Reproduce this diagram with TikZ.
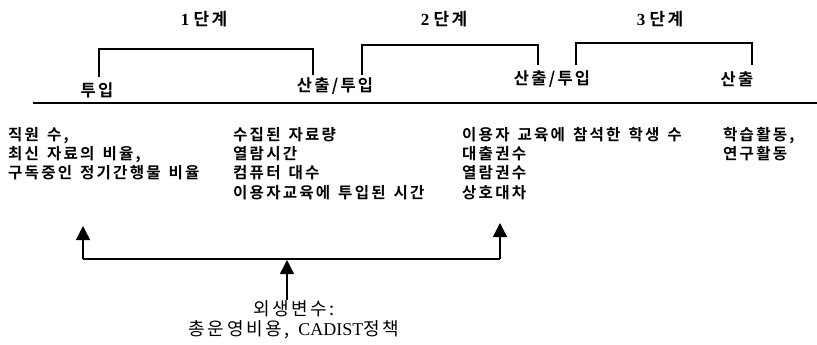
\documentclass[tikz,border=0pt]{standalone}
\usepackage{fontspec}
\setmainfont{Liberation Serif}
\newfontfamily\kr{Noto Sans CJK KR}[BoldFont={Noto Sans CJK KR Bold},LetterSpace=14,WordSpace=1.4]
\usetikzlibrary{arrows.meta}
\begin{document}
\begin{tikzpicture}[x=1pt,y=-1pt,
    ttl/.style={font=\bfseries\fontsize{17}{19}\selectfont},
    lab/.style={font=\kr\bfseries\fontsize{16.5}{18}\selectfont},
    blk/.style={anchor=north west,align=left,inner sep=0pt,
      font=\kr\bfseries\fontsize{15.6}{19.3}\selectfont},
    brk/.style={line width=1.3pt},
    up/.style={-{Triangle[width=14pt,length=14pt]},line width=1.4pt}]
  \useasboundingbox (0,0) rectangle (817,345);
  \draw
    (204,19) node[ttl] (s1){1 {\kr 단계}}
    (444,19) node[ttl] (s2){2 {\kr 단계}}
    (660,19) node[ttl] (s3){3 {\kr 단계}}
    (97,90) node[lab] (in1){투입}
    (335,86) node[lab] (io1){산출/투입}
    (552,79) node[lab] (io2){산출/투입}
    (737,79) node[lab] (out3){산출};
  \coordinate (b1l) at (99,77);
  \coordinate (b1t) at (313,49);
  \coordinate (b1r) at (313,75);
  \coordinate (b2l) at (362,75);
  \coordinate (b2t) at (538,45);
  \coordinate (b2r) at (538,65);
  \coordinate (b3l) at (576,65);
  \coordinate (b3t) at (752,43);
  \coordinate (b3r) at (752,65);
  \begin{scope}[brk]
    \draw (b1l) |- (b1t) -- (b1r);
    \draw (b2l) |- (b2t) -- (b2r);
    \draw (b3l) |- (b3t) -- (b3r);
  \end{scope}
  \coordinate (rl) at (33,103);
  \coordinate (rr) at (817,103);
  \draw[line width=1.8pt] (rl) -- (rr);
  \node[blk] (res) at (8,127) {직원 수,\\최신 자료의 비율,\\구독중인 정기간행물 비율};
  \node[blk] (use) at (233,127) {수집된 자료량\\열람시간\\컴퓨터 대수\\이용자교육에 투입된 시간};
  \node[blk] (srv) at (462,127) {이용자 교육에 참석한 학생 수\\대출권수\\열람권수\\상호대차};
  \node[blk] (eff) at (723,127) {학습활동,\\연구활동};
  \node[align=center,inner sep=0pt,anchor=north,
    font=\kr\fontsize{18}{20}\selectfont] (exo) at (294,300)
    {외생변수:\\총운영비용, {\rmfamily CADIST}정책};
  \coordinate (inp) at (83,226);
  \coordinate (outp) at (500,223);
  \coordinate (busl) at (83,259);
  \coordinate (busr) at (500,259);
  \coordinate (busm) at (287,260);
  \begin{scope}[up]
    \draw (busl) -- (inp);
    \draw (busr) -- (outp);
    \draw (exo.north -| busm) -- (busm);
  \end{scope}
  \draw[brk] (busl) -- (busr);
\end{tikzpicture}
\end{document}
